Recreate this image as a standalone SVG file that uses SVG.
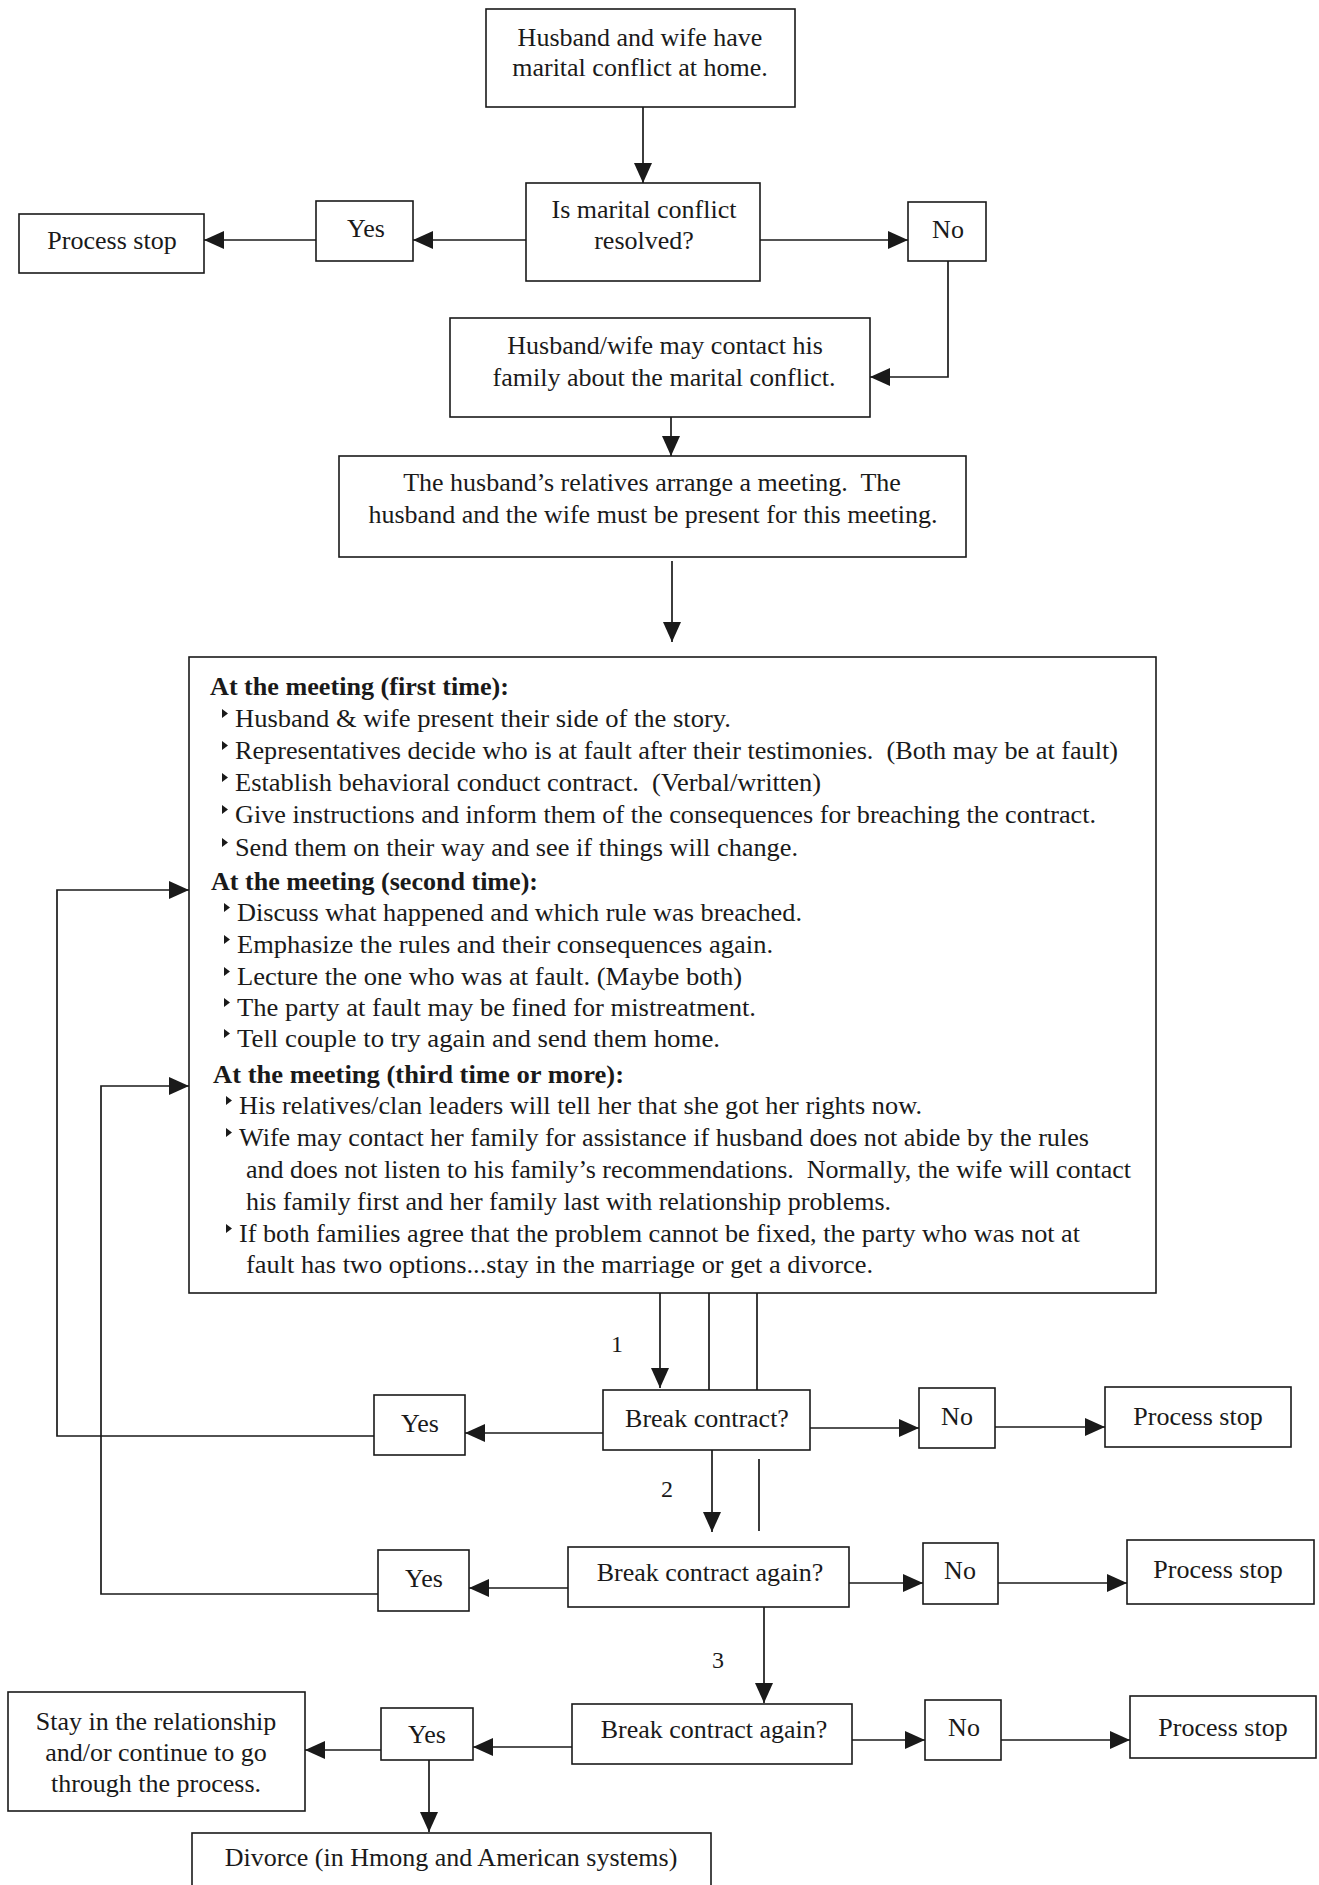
<svg xmlns="http://www.w3.org/2000/svg" width="1319" height="1885" viewBox="0 0 1319 1885">
<style>
.bg{fill:#ffffff}
.box{fill:#ffffff;stroke:#1a1a1a;stroke-width:1.6}
.t{font-family:"Liberation Serif","Times New Roman",serif;font-size:26px;fill:#1a1a1a}
.c{text-anchor:middle}
.b{font-weight:bold}
.lbl{font-family:"Liberation Serif","Times New Roman",serif;font-size:24px;fill:#1a1a1a}
.conn{fill:none;stroke:#1a1a1a;stroke-width:1.7}
.arr{marker-end:url(#ah)}
.bul{fill:#1a1a1a}
</style>
<defs>
<marker id="ah" markerUnits="userSpaceOnUse" markerWidth="20" markerHeight="18" refX="20" refY="9" orient="auto">
<path d="M0,0 L20,9 L0,18 Z" fill="#1a1a1a"/>
</marker>
<path id="bul" d="M0,-18 L6,-13.5 L0,-9 Z"/>
</defs>
<rect class="bg" x="0" y="0" width="1319" height="1885"/>

<g id="connectors">
<line class="conn arr" x1="643" y1="107" x2="643" y2="183"/>
<line class="conn arr" x1="526" y1="240" x2="413" y2="240"/>
<line class="conn arr" x1="316" y1="240" x2="204" y2="240"/>
<line class="conn arr" x1="760" y1="240" x2="908" y2="240"/>
<polyline class="conn arr" points="948,261 948,377 870,377"/>
<line class="conn arr" x1="671" y1="417" x2="671" y2="456"/>
<line class="conn arr" x1="672" y1="561" x2="672" y2="642"/>
<line class="conn arr" x1="660" y1="1293" x2="660" y2="1388"/>
<line class="conn" x1="709" y1="1293" x2="709" y2="1390"/>
<line class="conn" x1="757" y1="1293" x2="757" y2="1390"/>
<line class="conn arr" x1="603" y1="1433" x2="465" y2="1433"/>
<polyline class="conn arr" points="374,1436 57,1436 57,890 189,890"/>
<line class="conn arr" x1="810" y1="1428" x2="919" y2="1428"/>
<line class="conn arr" x1="995" y1="1427" x2="1105" y2="1427"/>
<line class="conn arr" x1="712" y1="1450" x2="712" y2="1532"/>
<line class="conn" x1="759" y1="1459" x2="759" y2="1531"/>
<line class="conn arr" x1="568" y1="1588" x2="469" y2="1588"/>
<polyline class="conn arr" points="378,1594 101,1594 101,1086 189,1086"/>
<line class="conn arr" x1="849" y1="1583" x2="923" y2="1583"/>
<line class="conn arr" x1="998" y1="1583" x2="1127" y2="1583"/>
<line class="conn arr" x1="764" y1="1607" x2="764" y2="1703"/>
<line class="conn arr" x1="852" y1="1740" x2="925" y2="1740"/>
<line class="conn arr" x1="1001" y1="1740" x2="1130" y2="1740"/>
<line class="conn arr" x1="572" y1="1747" x2="473" y2="1747"/>
<line class="conn arr" x1="381" y1="1750" x2="305" y2="1750"/>
<line class="conn arr" x1="429" y1="1760" x2="429" y2="1832"/>
<text class="lbl" x="611" y="1352">1</text>
<text class="lbl" x="661" y="1497">2</text>
<text class="lbl" x="712" y="1668">3</text>
</g>

<g id="n-start">
<rect class="box" x="486" y="9" width="309" height="98"/>
<text class="t c" x="640" y="46">Husband and wife have</text>
<text class="t c" x="640" y="76">marital conflict at home.</text>
</g>

<g id="n-resolved">
<rect class="box" x="526" y="183" width="234" height="98"/>
<text class="t c" x="644" y="218">Is marital conflict</text>
<text class="t c" x="644" y="249">resolved?</text>
</g>

<g id="n-yes0">
<rect class="box" x="316" y="201" width="97" height="60"/>
<text class="t c" x="366" y="237">Yes</text>
</g>

<g id="n-stop0">
<rect class="box" x="19" y="214" width="185" height="59"/>
<text class="t c" x="112" y="249">Process stop</text>
</g>

<g id="n-no0">
<rect class="box" x="908" y="202" width="78" height="59"/>
<text class="t c" x="948" y="238">No</text>
</g>

<g id="n-contact">
<rect class="box" x="450" y="318" width="420" height="99"/>
<text class="t c" x="665" y="354">Husband/wife may contact his</text>
<text class="t c" x="664" y="386">family about the marital conflict.</text>
</g>

<g id="n-arrange">
<rect class="box" x="339" y="456" width="627" height="101"/>
<text class="t c" x="652" y="491">The husband’s relatives arrange a meeting.&#160; The</text>
<text class="t c" x="653" y="523">husband and the wife must be present for this meeting.</text>
</g>

<g id="n-meeting">
<rect class="box" x="189" y="657" width="967" height="636"/>
<text class="t b" x="210" y="695" textLength="299" lengthAdjust="spacingAndGlyphs">At the meeting (first time):</text>
<use class="bul" href="#bul" x="222" y="727"/>
<text class="t" x="235" y="727" textLength="496" lengthAdjust="spacingAndGlyphs">Husband &amp; wife present their side of the story.</text>
<use class="bul" href="#bul" x="222" y="759"/>
<text class="t" x="235" y="759" textLength="883" lengthAdjust="spacingAndGlyphs">Representatives decide who is at fault after their testimonies.&#160; (Both may be at fault)</text>
<use class="bul" href="#bul" x="222" y="791"/>
<text class="t" x="235" y="791" textLength="586" lengthAdjust="spacingAndGlyphs">Establish behavioral conduct contract.&#160; (Verbal/written)</text>
<use class="bul" href="#bul" x="222" y="823"/>
<text class="t" x="235" y="823" textLength="861" lengthAdjust="spacingAndGlyphs">Give instructions and inform them of the consequences for breaching the contract.</text>
<use class="bul" href="#bul" x="222" y="856"/>
<text class="t" x="235" y="856" textLength="563" lengthAdjust="spacingAndGlyphs">Send them on their way and see if things will change.</text>
<text class="t b" x="211" y="890" textLength="327" lengthAdjust="spacingAndGlyphs">At the meeting (second time):</text>
<use class="bul" href="#bul" x="224" y="921"/>
<text class="t" x="237" y="921" textLength="565" lengthAdjust="spacingAndGlyphs">Discuss what happened and which rule was breached.</text>
<use class="bul" href="#bul" x="224" y="953"/>
<text class="t" x="237" y="953" textLength="536" lengthAdjust="spacingAndGlyphs">Emphasize the rules and their consequences again.</text>
<use class="bul" href="#bul" x="224" y="985"/>
<text class="t" x="237" y="985" textLength="505" lengthAdjust="spacingAndGlyphs">Lecture the one who was at fault. (Maybe both)</text>
<use class="bul" href="#bul" x="224" y="1016"/>
<text class="t" x="237" y="1016" textLength="519" lengthAdjust="spacingAndGlyphs">The party at fault may be fined for mistreatment.</text>
<use class="bul" href="#bul" x="224" y="1047"/>
<text class="t" x="237" y="1047" textLength="483" lengthAdjust="spacingAndGlyphs">Tell couple to try again and send them home.</text>
<text class="t b" x="213" y="1083" textLength="411" lengthAdjust="spacingAndGlyphs">At the meeting (third time or more):</text>
<use class="bul" href="#bul" x="226" y="1114"/>
<text class="t" x="239" y="1114" textLength="683" lengthAdjust="spacingAndGlyphs">His relatives/clan leaders will tell her that she got her rights now.</text>
<use class="bul" href="#bul" x="226" y="1146"/>
<text class="t" x="239" y="1146" textLength="850" lengthAdjust="spacingAndGlyphs">Wife may contact her family for assistance if husband does not abide by the rules</text>
<text class="t" x="246" y="1178" textLength="885" lengthAdjust="spacingAndGlyphs">and does not listen to his family’s recommendations.&#160; Normally, the wife will contact</text>
<text class="t" x="246" y="1210" textLength="645" lengthAdjust="spacingAndGlyphs">his family first and her family last with relationship problems.</text>
<use class="bul" href="#bul" x="226" y="1242"/>
<text class="t" x="239" y="1242" textLength="841" lengthAdjust="spacingAndGlyphs">If both families agree that the problem cannot be fixed, the party who was not at</text>
<text class="t" x="246" y="1273" textLength="627" lengthAdjust="spacingAndGlyphs">fault has two options...stay in the marriage or get a divorce.</text>
</g>

<g id="n-break1">
<rect class="box" x="603" y="1390" width="207" height="60"/>
<text class="t c" x="707" y="1427">Break contract?</text>
</g>
<g id="n-yes1">
<rect class="box" x="374" y="1395" width="91" height="60"/>
<text class="t c" x="420" y="1432">Yes</text>
</g>
<g id="n-no1">
<rect class="box" x="919" y="1388" width="76" height="60"/>
<text class="t c" x="957" y="1425">No</text>
</g>
<g id="n-stop1">
<rect class="box" x="1105" y="1387" width="186" height="60"/>
<text class="t c" x="1198" y="1425">Process stop</text>
</g>

<g id="n-break2">
<rect class="box" x="568" y="1547" width="281" height="60"/>
<text class="t c" x="710" y="1581">Break contract again?</text>
</g>
<g id="n-yes2">
<rect class="box" x="378" y="1550" width="91" height="61"/>
<text class="t c" x="424" y="1587">Yes</text>
</g>
<g id="n-no2">
<rect class="box" x="923" y="1543" width="75" height="61"/>
<text class="t c" x="960" y="1579">No</text>
</g>
<g id="n-stop2">
<rect class="box" x="1127" y="1540" width="187" height="64"/>
<text class="t c" x="1218" y="1578">Process stop</text>
</g>

<g id="n-break3">
<rect class="box" x="572" y="1704" width="280" height="60"/>
<text class="t c" x="714" y="1738">Break contract again?</text>
</g>
<g id="n-yes3">
<rect class="box" x="381" y="1708" width="92" height="52"/>
<text class="t c" x="427" y="1743">Yes</text>
</g>
<g id="n-no3">
<rect class="box" x="925" y="1700" width="76" height="60"/>
<text class="t c" x="964" y="1736">No</text>
</g>
<g id="n-stop3">
<rect class="box" x="1130" y="1696" width="186" height="62"/>
<text class="t c" x="1223" y="1736">Process stop</text>
</g>

<g id="n-stay">
<rect class="box" x="8" y="1692" width="297" height="119"/>
<text class="t c" x="156" y="1730">Stay in the relationship</text>
<text class="t c" x="156" y="1761">and/or continue to go</text>
<text class="t c" x="156" y="1792">through the process.</text>
</g>

<g id="n-divorce">
<rect class="box" x="192" y="1833" width="519" height="60"/>
<text class="t c" x="451" y="1866">Divorce (in Hmong and American systems)</text>
</g>
</svg>
